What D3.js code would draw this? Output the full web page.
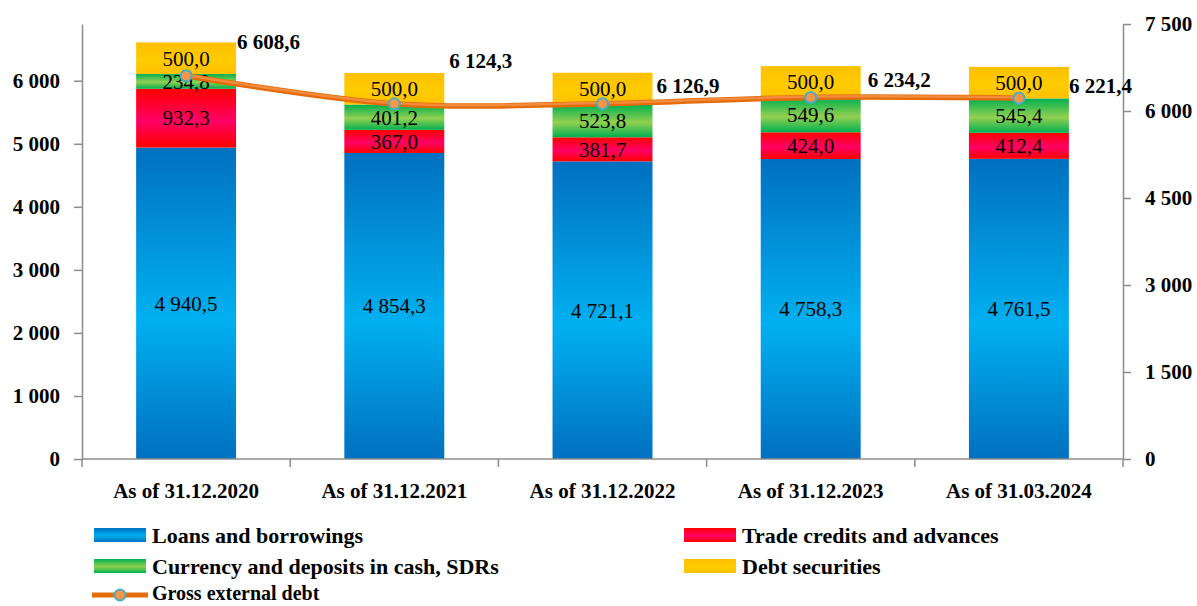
<!DOCTYPE html>
<html lang="en">
<head>
    <meta charset="UTF-8">
    <title>Gross external debt</title>
    <script src="https://d3js.org/d3.v7.min.js"></script>
    <style>
        body { margin: 0; background: white; }
        svg, .axis text { font-family: "Palatino Linotype", "Book Antiqua", Palatino, "Liberation Serif", serif; }
        .axis path, .axis line { stroke: #8c8c8c; stroke-width: 1.5px; }
        .axis text { fill: #000; font-size: 21px; font-weight: bold; }
    </style>
</head>
<body>
<svg width="1197" height="606"></svg>
<script>
    // values
    const categories = ["As of 31.12.2020", "As of 31.12.2021", "As of 31.12.2022", "As of 31.12.2023", "As of 31.03.2024"];
    const loans = [4940.5, 4854.3, 4721.1, 4758.3, 4761.5];
    const trade = [932.3, 367.0, 381.7, 424.0, 412.4];
    const currency = [234.8, 401.2, 523.8, 549.6, 545.4];
    const securities = [500.0, 500.0, 500.0, 500.0, 500.0];
    const gross = [6608.6, 6124.3, 6126.9, 6234.2, 6221.4];
    const leftTicks = [0, 1000, 2000, 3000, 4000, 5000, 6000];
    const rightTicks = [0, 1500, 3000, 4500, 6000, 7500];

    const seriesNames = ["Loans and borrowings", "Trade credits and advances", "Currency and deposits in cash, SDRs", "Debt securities"];
    const seriesKeys = ["loans", "trade", "currency", "securities"];
    const lineName = "Gross external debt";

    // layout (not data)
    const grossLabelShift = [[51, -34], [55, -43], [54, -18], [57, -18], [50, -13]];

    let svg = d3.select("svg");
    svg.append("rect").attr("width", 1197).attr("height", 606).attr("fill", "white");

    const fmtLocale = d3.formatLocale({decimal: ",", thousands: " ", grouping: [3], currency: ["", ""]});
    const fmtTick = fmtLocale.format(",.0f");
    const fmtVal = fmtLocale.format(",.1f");

    let x = d3.scaleBand().domain(categories).range([82, 1123]).paddingInner(0.52).paddingOuter(0.26);
    let yL = d3.scaleLinear().domain([0, 6900]).range([459, 24]);
    let yR = d3.scaleLinear().domain([0, 7500]).range([459, 24]);

    // gradients
    let defs = svg.append("defs");
    const grads = {
        loans: ["#0070C0", "#00B0F0", "#0070C0"],
        trade: ["#FF0000", "#FF0066", "#FF0000"],
        currency: ["#00B050", "#92D050", "#00B050"],
        securities: ["#FFBF00", "#FFCC00", "#FFC000"]
    };
    Object.keys(grads).forEach(function (k) {
        let g = defs.append("linearGradient").attr("id", "g-" + k)
            .attr("x1", 0).attr("y1", 0).attr("x2", 0).attr("y2", 1);
        g.append("stop").attr("offset", "0%").attr("stop-color", grads[k][0]);
        g.append("stop").attr("offset", "55%").attr("stop-color", grads[k][1]);
        g.append("stop").attr("offset", "100%").attr("stop-color", grads[k][2]);
    });

    let rows = categories.map(function (c, i) {
        return {cat: c, loans: loans[i], trade: trade[i], currency: currency[i], securities: securities[i]};
    });
    let stacked = d3.stack().keys(seriesKeys)(rows);

    // bars
    let layers = svg.append("g").selectAll("g")
        .data(stacked)
        .join("g")
        .attr("fill", d => "url(#g-" + d.key + ")");

    layers.selectAll("rect")
        .data(d => d)
        .join("rect")
        .attr("x", d => x(d.data.cat))
        .attr("width", x.bandwidth())
        .attr("y", d => yL(d[1]))
        .attr("height", d => yL(d[0]) - yL(d[1]));

    layers.selectAll("text")
        .data(d => d.map(v => ({v: v, key: d.key})))
        .join("text")
        .attr("x", d => x(d.v.data.cat) + x.bandwidth() / 2)
        .attr("y", d => yL((d.v[0] + d.v[1]) / 2))
        .attr("dy", "0.35em")
        .attr("text-anchor", "middle")
        .attr("font-size", 21)
        .attr("fill", "#000")
        .text(d => fmtVal(d.v.data[d.key]));

    // axes
    let xAxis = svg.append("g").attr("class", "axis").attr("transform", "translate(0,459)")
        .call(d3.axisBottom(x).tickSize(0).tickPadding(24));
    xAxis.attr("font-family", null);
    xAxis.select(".domain").attr("d", "M82,0H1123");
    // tick marks between categories
    let bounds = categories.map(c => x(c) - x.step() * x.paddingInner() / 2);
    bounds.push(x(categories[categories.length - 1]) + x.bandwidth() + x.step() * x.paddingInner() / 2);
    xAxis.selectAll(".bound").data(bounds).join("line").attr("class", "bound")
        .attr("x1", d => d).attr("x2", d => d).attr("y1", 0).attr("y2", 8);

    svg.append("g").attr("class", "axis").attr("transform", "translate(82,0)")
        .call(d3.axisLeft(yL).tickValues(leftTicks).tickFormat(fmtTick).tickSize(8).tickSizeOuter(0).tickPadding(14))
        .attr("font-family", null);
    svg.append("g").attr("class", "axis").attr("transform", "translate(1123,0)")
        .call(d3.axisRight(yR).tickValues(rightTicks).tickFormat(fmtTick).tickSize(8).tickSizeOuter(0).tickPadding(14))
        .attr("font-family", null);

    // gross line
    let line = d3.line()
        .x((d, i) => x(categories[i]) + x.bandwidth() / 2)
        .y(d => yR(d))
        .curve(d3.curveCardinal.tension(0));
    svg.append("path").datum(gross).attr("d", line)
        .attr("fill", "none").attr("stroke", "#E46C0A").attr("stroke-width", 5.5);
    svg.append("path").datum(gross).attr("d", line)
        .attr("fill", "none").attr("stroke", "#F28C3C").attr("stroke-width", 2.5)
        .attr("transform", "translate(0,-0.8)");
    svg.append("g").selectAll("circle").data(gross).join("circle")
        .attr("cx", (d, i) => x(categories[i]) + x.bandwidth() / 2)
        .attr("cy", d => yR(d))
        .attr("r", 5.5)
        .attr("fill", "#F79646")
        .attr("stroke", "#4BACC6")
        .attr("stroke-width", 2);
    svg.append("g").selectAll("text").data(gross).join("text")
        .attr("x", (d, i) => x(categories[i]) + x.bandwidth() / 2 + grossLabelShift[i][0])
        .attr("y", (d, i) => yR(d) + grossLabelShift[i][1])
        .attr("dy", "0.35em")
        .attr("font-size", 21)
        .attr("font-weight", "bold")
        .text(d => fmtVal(d));

    // legend
    let legendItems = [
        {name: seriesNames[0], key: "loans", x: 94, y: 535},
        {name: seriesNames[1], key: "trade", x: 684, y: 535},
        {name: seriesNames[2], key: "currency", x: 94, y: 566},
        {name: seriesNames[3], key: "securities", x: 684, y: 566}
    ];
    let legend = svg.append("g");
    legend.selectAll("rect").data(legendItems).join("rect")
        .attr("x", d => d.x).attr("y", d => d.y - 7)
        .attr("width", 52).attr("height", 14)
        .attr("fill", d => "url(#g-" + d.key + ")");
    legend.selectAll("text").data(legendItems).join("text")
        .attr("x", d => d.x + 58).attr("y", d => d.y)
        .attr("dy", "0.35em")
        .attr("font-size", 22).attr("font-weight", "bold")
        .text(d => d.name);

    legend.append("line").attr("x1", 92).attr("x2", 148).attr("y1", 595).attr("y2", 595)
        .attr("stroke", "#E46C0A").attr("stroke-width", 5);
    legend.append("circle").attr("cx", 120).attr("cy", 595).attr("r", 5.5)
        .attr("fill", "#F79646").attr("stroke", "#4BACC6").attr("stroke-width", 2);
    legend.append("text").attr("x", 152).attr("y", 594).attr("dy", "0.32em")
        .attr("font-size", 20).attr("font-weight", "bold")
        .text(lineName);
</script>
</body>
</html>
